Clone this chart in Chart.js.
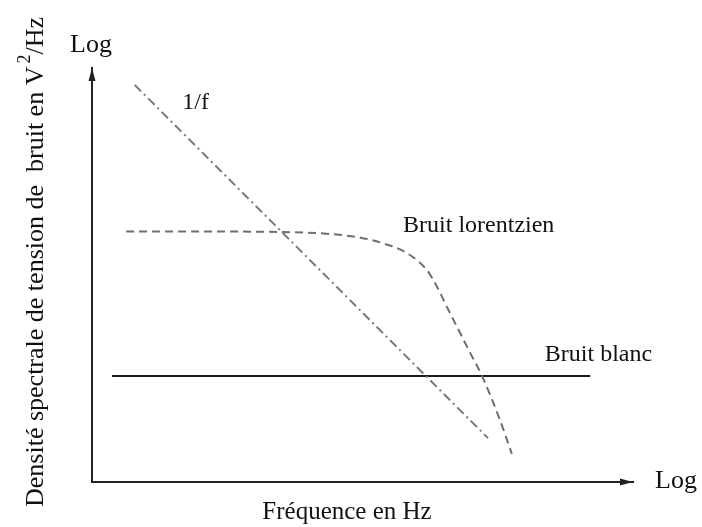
<!DOCTYPE html>
<html>
<head>
<meta charset="utf-8">
<script src="https://cdn.jsdelivr.net/npm/chart.js@4"></script>
<style>
  body { margin: 0; background: #fff; }
  #wrap { width: 702px; height: 527px; }
</style>
</head>
<body>
<div id="wrap"><canvas id="bruit"></canvas></div>
<script>
// schematic values, both axes in arbitrary log units (0..100)
const pinkX = [7.9, 73.2];
const pinkY = [95.9, 10.6];

const lorentzX = [6.3, 20, 34.7, 44, 50.1, 54.2, 58.2, 61.9, 63.8, 65.6, 67.5, 69.9, 72.1, 75.4, 77.6];
const lorentzY = [60.5, 60.5, 60.4, 59.9, 58.9, 57.5, 55.3, 51.2, 47.1, 42.3, 37.4, 31.2, 25.6, 15, 6.8];

const whiteX = [3.7, 92.1];
const whiteY = [25.6, 25.6];

const curveNames = ["1/f", "Bruit lorentzien", "Bruit blanc"];
// where each name sits, in the same units as the data
const nameX = [16.7, 57.5, 83.7];
const nameY = [90.1, 60.4, 29.2];

const xTitle = "Fréquence en Hz";
const yTitle = ["Densité spectrale de tension de  bruit en V", "2", "/Hz"];
const axisWord = "Log";

const serif = "'Liberation Serif', 'DejaVu Serif', serif";

function pts(xs, ys) {
    return xs.map((x, i) => ({ x: x, y: ys[i] }));
}

// arrows, curve names and axis titles
const notes = {
    id: "notes",
    afterDraw(chart) {
        const ctx = chart.ctx,
            area = chart.chartArea,
            sx = chart.scales.x,
            sy = chart.scales.y;
        ctx.save();
        ctx.fillStyle = "#222";
        // arrow heads
        ctx.beginPath();
        ctx.moveTo(area.right, area.bottom);
        ctx.lineTo(area.right - 13, area.bottom - 3.5);
        ctx.lineTo(area.right - 13, area.bottom + 3.5);
        ctx.closePath();
        ctx.fill();
        ctx.beginPath();
        ctx.moveTo(area.left, area.top);
        ctx.lineTo(area.left - 3.5, area.top + 13);
        ctx.lineTo(area.left + 3.5, area.top + 13);
        ctx.closePath();
        ctx.fill();

        ctx.fillStyle = "#111";
        ctx.font = "24px " + serif;
        ctx.textBaseline = "alphabetic";
        ctx.textAlign = "left";
        curveNames.forEach((n, i) => {
            ctx.fillText(n, sx.getPixelForValue(nameX[i]), sy.getPixelForValue(nameY[i]));
        });

        ctx.font = "26px " + serif;
        ctx.fillText(axisWord, area.left - 22, area.top - 16);
        ctx.fillText(axisWord, area.right + 22, area.bottom + 6);

        ctx.font = "25px " + serif;
        ctx.textAlign = "center";
        ctx.fillText(xTitle, 347, 519);

        // rotated y title with the superscript 2
        const big = "26px " + serif, small = "18px " + serif;
        ctx.font = big;
        const w0 = ctx.measureText(yTitle[0]).width;
        const w2 = ctx.measureText(yTitle[2]).width;
        ctx.font = small;
        const w1 = ctx.measureText(yTitle[1]).width + 3;
        const total = w0 + w1 + w2;
        ctx.translate(43, 262);
        ctx.rotate(-Math.PI / 2);
        ctx.textAlign = "left";
        let px = -total / 2;
        ctx.font = big;
        ctx.fillText(yTitle[0], px, 0);
        px += w0 + 3;
        ctx.font = small;
        ctx.fillText(yTitle[1], px, -13);
        px += w1 - 3;
        ctx.font = big;
        ctx.fillText(yTitle[2], px, 0);
        ctx.restore();
    }
};

new Chart(document.getElementById("bruit"), {
    type: "scatter",
    data: {
        datasets: [
            {
                data: pts(pinkX, pinkY),
                showLine: true,
                borderColor: "#7a7a7a",
                borderWidth: 2,
                borderDash: [9, 4, 2, 4],
                pointRadius: 0
            },
            {
                data: pts(lorentzX, lorentzY),
                showLine: true,
                borderColor: "#6e6e6e",
                borderWidth: 2,
                borderDash: [8, 5],
                cubicInterpolationMode: "monotone",
                pointRadius: 0
            },
            {
                data: pts(whiteX, whiteY),
                showLine: true,
                borderColor: "#1a1a1a",
                borderWidth: 2,
                pointRadius: 0
            }
        ]
    },
    options: {
        responsive: true,
        maintainAspectRatio: false,
        animation: false,
        layout: { padding: { left: 92, top: 68, right: 69, bottom: 45 } },
        plugins: { legend: { display: false }, tooltip: { enabled: false } },
        scales: {
            x: {
                type: "linear", min: 0, max: 100,
                grid: { display: false, drawTicks: false, tickLength: 0 },
                ticks: { display: false, padding: 0 },
                border: { display: true, color: "#222", width: 2 }
            },
            y: {
                type: "linear", min: 0, max: 100,
                grid: { display: false, drawTicks: false, tickLength: 0 },
                ticks: { display: false, padding: 0 },
                border: { display: true, color: "#222", width: 2 }
            }
        }
    },
    plugins: [notes]
});
</script>
</body>
</html>
